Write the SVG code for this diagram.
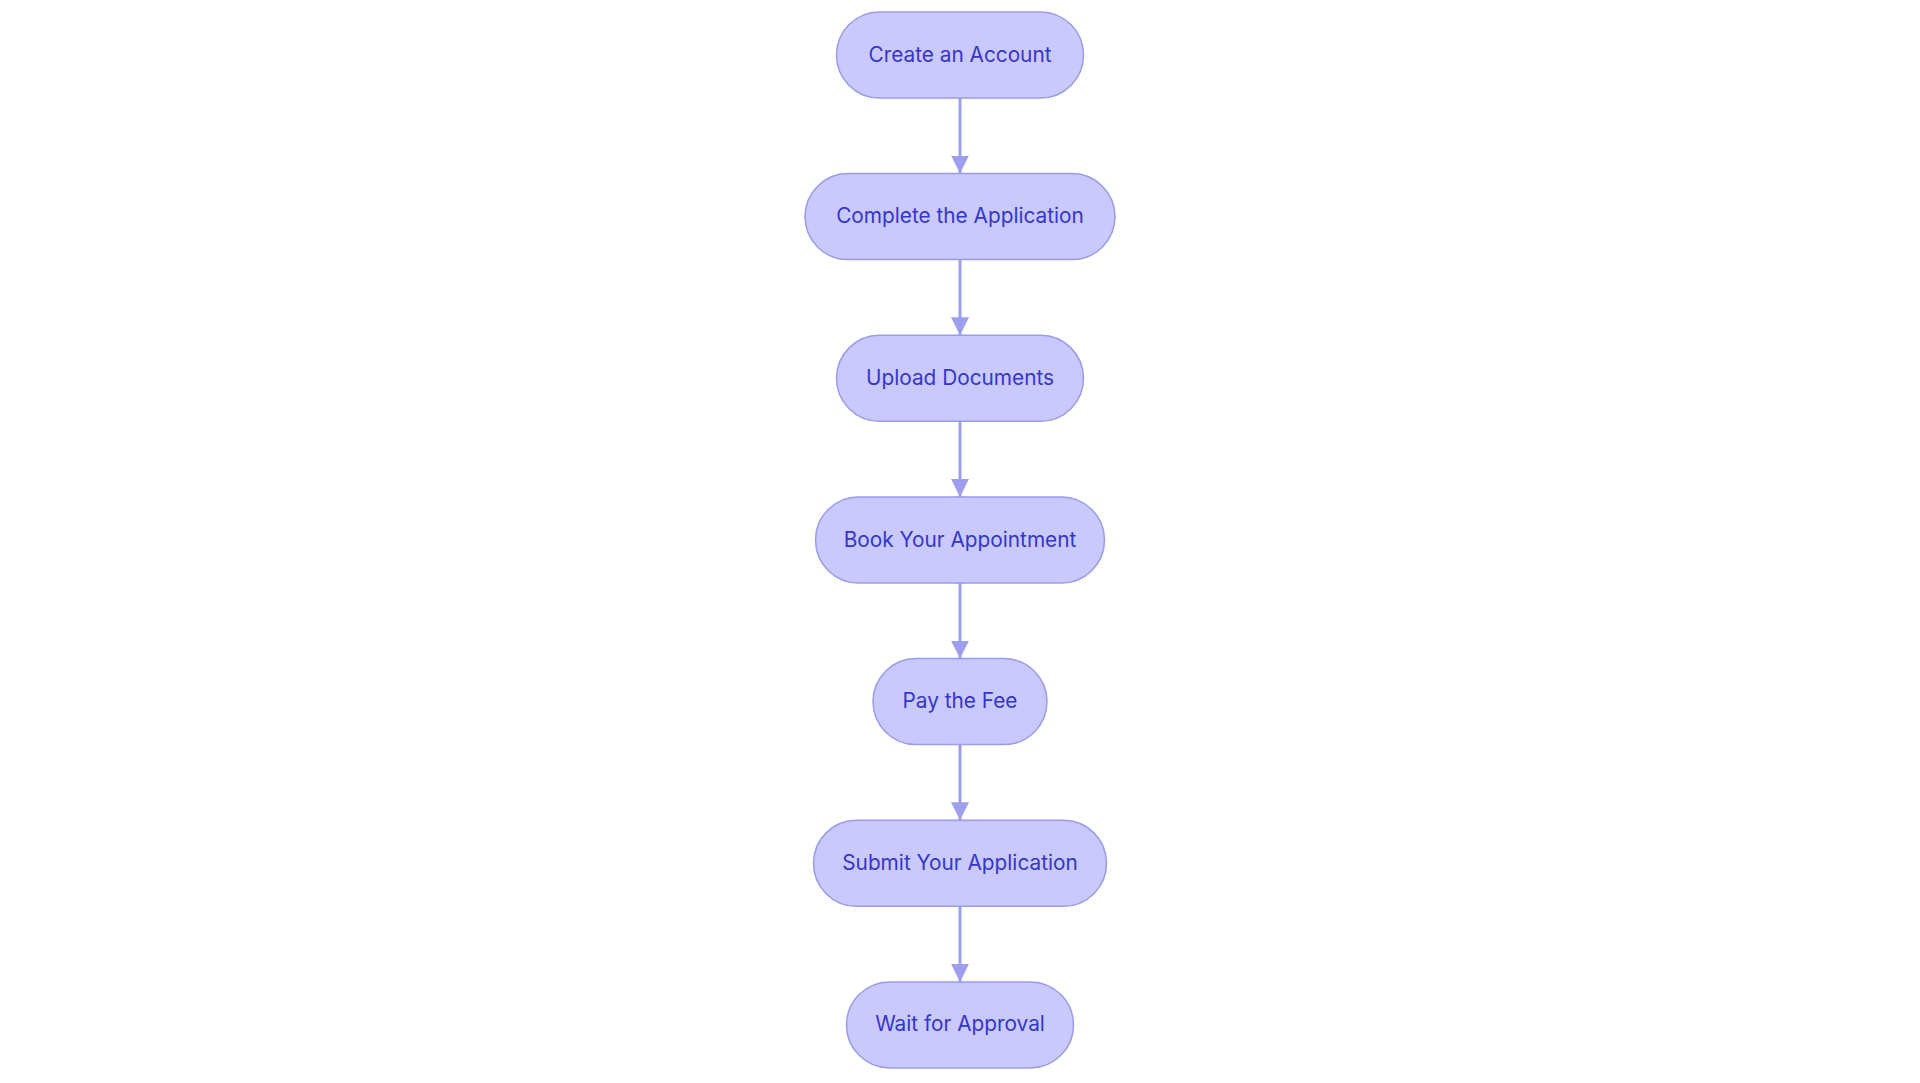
<svg xmlns="http://www.w3.org/2000/svg" width="1920" height="1083" viewBox="0 0 1920 1083">
<style>
.node rect{fill:#c9c9ff;stroke:#9a9aee;stroke-width:1.5}
.node text{font-family:Inter,"Noto Sans",sans-serif;font-size:20.8px;font-weight:400;fill:#3535cf;text-anchor:middle}
.edge{stroke:#9e9eee;stroke-width:3;fill:none}
</style>
<defs>
<marker id="arr" markerUnits="userSpaceOnUse" markerWidth="20" markerHeight="20" viewBox="0 0 20 20" refX="18" refY="10" orient="auto">
<path d="M0,1 L18,10 L0,19 Z" fill="#9e9eee"/>
</marker>
</defs>
<rect width="1920" height="1083" fill="#ffffff"/>
<g id="connectors">
<line class="edge" x1="960" y1="98" x2="960" y2="173.5" marker-end="url(#arr)"/>
<line class="edge" x1="960" y1="259.6" x2="960" y2="335.2" marker-end="url(#arr)"/>
<line class="edge" x1="960" y1="421.3" x2="960" y2="496.9" marker-end="url(#arr)"/>
<line class="edge" x1="960" y1="582.9" x2="960" y2="658.6" marker-end="url(#arr)"/>
<line class="edge" x1="960" y1="744.6" x2="960" y2="820.2" marker-end="url(#arr)"/>
<line class="edge" x1="960" y1="906.2" x2="960" y2="981.9" marker-end="url(#arr)"/>
</g>
<g id="n1" class="node"><rect x="836.5" y="12" width="247" height="86" rx="43"/><text x="960" y="61.5">Create an Account</text></g>
<g id="n2" class="node"><rect x="805" y="173.6" width="310" height="86" rx="43"/><text x="960" y="223.1">Complete the Application</text></g>
<g id="n3" class="node"><rect x="836.5" y="335.3" width="247" height="86" rx="43"/><text x="960" y="384.8">Upload Documents</text></g>
<g id="n4" class="node"><rect x="815.5" y="497" width="289" height="86" rx="43"/><text x="960" y="546.5">Book Your Appointment</text></g>
<g id="n5" class="node"><rect x="873" y="658.6" width="174" height="86" rx="43"/><text x="960" y="708.1">Pay the Fee</text></g>
<g id="n6" class="node"><rect x="813.5" y="820.3" width="293" height="86" rx="43"/><text x="960" y="869.8">Submit Your Application</text></g>
<g id="n7" class="node"><rect x="846.5" y="981.9" width="227" height="86" rx="43"/><text x="960" y="1031.4">Wait for Approval</text></g>
</svg>
